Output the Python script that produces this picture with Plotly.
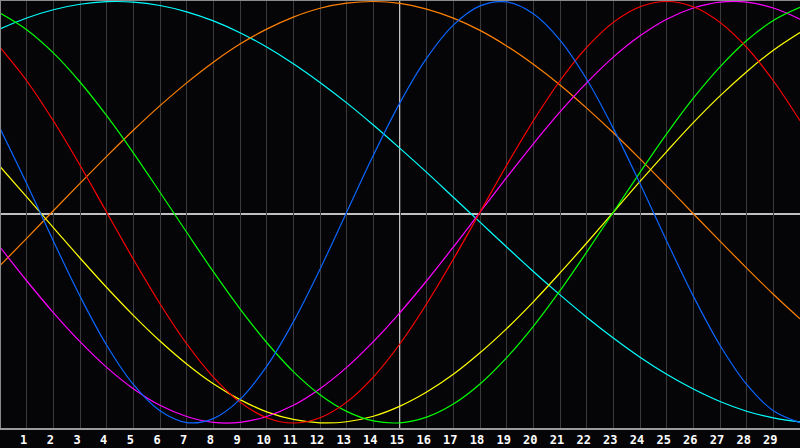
import plotly.graph_objects as go

days = list(range(0, 31))
tick_days = list(range(1, 30))
tick_labels = [str(d) for d in tick_days]

physical = [0.398, 0.136, -0.136, -0.398, -0.631, -0.817, -0.942, -0.998, -0.979, -0.888, -0.731,
            -0.520, -0.270, 0.000, 0.270, 0.520, 0.731, 0.888, 0.979, 0.998, 0.942, 0.817, 0.631,
            0.398, 0.136, -0.136, -0.398, -0.631, -0.817, -0.942, -0.998]
emotional = [0.782, 0.624, 0.434, 0.223, 0.000, -0.223, -0.434, -0.624, -0.782, -0.901, -0.975,
             -1.000, -0.975, -0.901, -0.782, -0.624, -0.434, -0.223, 0.000, 0.223, 0.434, 0.624,
             0.782, 0.901, 0.975, 1.000, 0.975, 0.901, 0.782, 0.624, 0.434]
intellectual = [0.945, 0.866, 0.756, 0.618, 0.458, 0.282, 0.095, -0.095, -0.282, -0.458, -0.618,
                -0.756, -0.866, -0.945, -0.990, -0.999, -0.972, -0.910, -0.815, -0.690, -0.541,
                -0.372, -0.189, 0.000, 0.189, 0.372, 0.541, 0.690, 0.815, 0.910, 0.972]
cyan_series = [0.870, 0.922, 0.961, 0.987, 0.999, 0.997, 0.981, 0.951, 0.908, 0.852, 0.784, 0.705,
               0.616, 0.519, 0.414, 0.303, 0.189, 0.071, -0.047, -0.165, -0.281, -0.392, -0.498,
               -0.597, -0.688, -0.769, -0.839, -0.898, -0.944, -0.976, -0.995]
orange_series = [-0.253, -0.124, 0.007, 0.137, 0.265, 0.389, 0.506, 0.614, 0.712, 0.798, 0.869,
                 0.926, 0.968, 0.992, 1.000, 0.991, 0.964, 0.921, 0.863, 0.789, 0.702, 0.604,
                 0.494, 0.377, 0.253, 0.124, -0.007, -0.137, -0.265, -0.389, -0.506]
magenta_series = [-0.165, -0.325, -0.476, -0.614, -0.736, -0.837, -0.916, -0.969, -0.997, -0.997,
                  -0.969, -0.916, -0.837, -0.736, -0.614, -0.476, -0.325, -0.165, 0.000, 0.165,
                  0.325, 0.476, 0.614, 0.736, 0.837, 0.916, 0.969, 0.997, 0.997, 0.969, 0.916]
yellow_series = [0.217, 0.073, -0.073, -0.217, -0.357, -0.489, -0.611, -0.720, -0.814, -0.889,
                 -0.947, -0.983, -0.999, -0.994, -0.968, -0.920, -0.853, -0.769, -0.667, -0.552,
                 -0.425, -0.288, -0.146, 0.000, 0.146, 0.288, 0.425, 0.552, 0.667, 0.769, 0.853]

series = [
    ("Cyan", cyan_series, "#00ffff"),
    ("Orange", orange_series, "#ff8000"),
    ("Yellow", yellow_series, "#ffff00"),
    ("Magenta", magenta_series, "#ff00ff"),
    ("Intellectual", intellectual, "#00ff00"),
    ("Emotional", emotional, "#ff0000"),
    ("Physical", physical, "#0a66ff"),
]

fig = go.Figure()
for name, vals, col in series:
    fig.add_trace(go.Scatter(x=days, y=vals, mode="lines", name=name,
                             line=dict(color=col, width=1.2, shape="spline", smoothing=1.0),
                             hoverinfo="skip"))

bg = "#050508"
shapes = [
    dict(type="line", xref="x", yref="paper", x0=15, x1=15, y0=0, y1=1,
         line=dict(color="#ffffff", width=1.5), layer="below"),
    dict(type="line", xref="paper", yref="y", x0=0, x1=1, y0=-0.008, y1=-0.008,
         line=dict(color="#ffffff", width=1.5), layer="below"),
    dict(type="line", xref="paper", yref="paper", x0=0, x1=0, y0=0, y1=1,
         line=dict(color="#8a8a8a", width=2)),
    dict(type="line", xref="paper", yref="paper", x0=0, x1=1, y0=1, y1=1,
         line=dict(color="#8a8a8a", width=2)),
]

fig.update_layout(
    width=800, height=448,
    margin=dict(l=0, r=0, t=0, b=20),
    paper_bgcolor=bg, plot_bgcolor=bg,
    showlegend=False,
    shapes=shapes,
    xaxis=dict(range=[0, 30], tickvals=tick_days, ticktext=tick_labels,
               showgrid=True, gridcolor="#3a3a3a", gridwidth=1,
               zeroline=False, showline=True, linecolor="#9a9a9a", linewidth=2,
               ticks="", ticklabelshift=-3, ticklabelstandoff=0,
               tickfont=dict(family="DejaVu Sans Mono", size=12, color="#ffffff", weight="bold"),
               fixedrange=True),
    yaxis=dict(range=[-1.0237, 1.0071], showgrid=False, zeroline=False,
               showticklabels=False, showline=False, fixedrange=True),
)

fig.write_html("out.html", config={"displayModeBar": False},
               post_script="document.body.style.margin='0';document.body.style.overflow='hidden';document.body.style.background='#050508';")
